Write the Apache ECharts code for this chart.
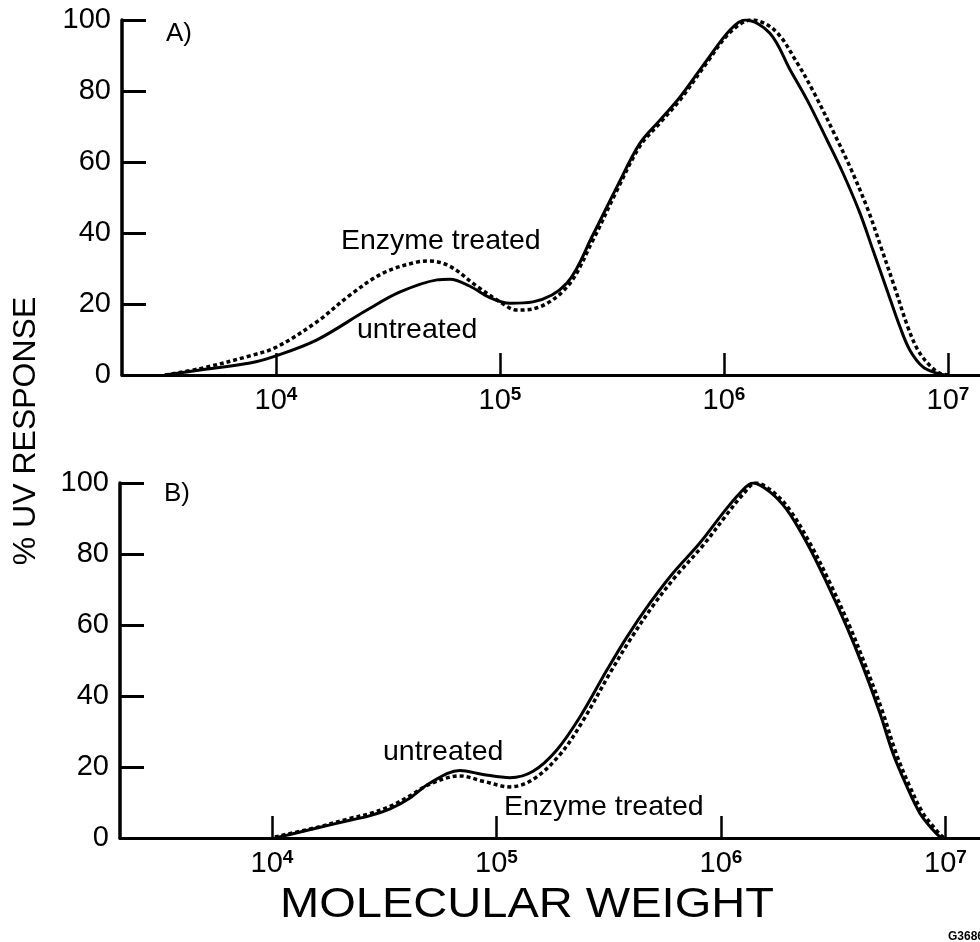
<!DOCTYPE HTML>
<html>
<head>
    <meta charset="utf-8">
    <title>% UV response vs molecular weight</title>
    <script type="text/javascript" src="https://cdn.jsdelivr.net/npm/echarts@6/dist/echarts.min.js"></script>
    <style>
        html, body { margin: 0; padding: 0; background: #fff; }
        #container { width: 980px; height: 942px; }
    </style>
</head>
<body>
<div id="container"></div>
<script type="text/javascript">
    // x values are log10(molecular weight), y values are % UV response
    var xTicks = [4, 5, 6, 7];
    var yTicks = [0, 20, 40, 60, 80, 100];

    // panel A) untreated (solid)
    var logMwA_untreated = [3.504, 3.661, 3.884, 4.000, 4.183, 4.406, 4.554, 4.719, 4.777, 4.866, 4.955, 5.045, 5.147, 5.299, 5.415, 5.522, 5.625, 5.714, 5.804, 5.924, 6.027, 6.094, 6.205, 6.295, 6.371, 6.460, 6.531, 6.607, 6.665, 6.728, 6.786, 6.830, 6.888, 6.951, 6.987];
    var uvA_untreated    = [0, 1.4, 3.4, 5.4, 9.9, 18.3, 23.4, 26.8, 27, 25, 21.8, 20.2, 20.6, 25.9, 39.5, 53, 65.3, 71.8, 78.3, 88.7, 97.2, 100, 96.3, 86, 77.5, 66.2, 56.9, 45.6, 35.2, 23.9, 13.5, 7, 2.3, 0.5, 0];

    // panel A) enzyme treated (dotted)
    var logMwA_treated = [3.504, 3.661, 3.884, 4.000, 4.183, 4.330, 4.478, 4.629, 4.688, 4.777, 4.897, 5.000, 5.076, 5.147, 5.299, 5.415, 5.522, 5.625, 5.714, 5.804, 5.924, 6.027, 6.125, 6.228, 6.326, 6.406, 6.496, 6.567, 6.643, 6.701, 6.763, 6.821, 6.866, 6.920, 6.964, 7.000];
    var uvA_treated    = [0, 1.8, 5.4, 7.8, 15, 22.5, 28.7, 31.8, 32.1, 30.6, 25, 20.6, 18.3, 18.6, 24.8, 38, 52, 64.5, 71, 77.5, 88, 96.5, 100, 97, 88, 79, 67.5, 58, 46.5, 36, 24.5, 13.5, 7, 2.6, 0.5, 0];

    // panel B) untreated (solid)
    var logMwB_untreated = [4.013, 4.080, 4.200, 4.347, 4.437, 4.526, 4.615, 4.704, 4.837, 4.940, 5.060, 5.163, 5.269, 5.372, 5.492, 5.581, 5.684, 5.786, 5.906, 6.009, 6.085, 6.143, 6.218, 6.294, 6.383, 6.472, 6.561, 6.633, 6.708, 6.766, 6.829, 6.886, 6.944, 6.976, 6.993];
    var uvB_untreated    = [0, 1, 2.8, 5, 6.3, 8.2, 11.3, 15.5, 19, 17.9, 17, 18.8, 24.8, 34.1, 47.3, 56.6, 66.2, 74.6, 83.1, 91.5, 97.2, 100, 97.5, 92.4, 83.1, 71.8, 59.4, 48.2, 35.2, 23.9, 14.4, 7, 2.3, 0.3, 0];

    // panel B) enzyme treated (dotted)
    var logMwB_treated = [4.013, 4.200, 4.347, 4.437, 4.526, 4.615, 4.704, 4.837, 4.940, 5.060, 5.163, 5.283, 5.385, 5.506, 5.595, 5.697, 5.800, 5.920, 6.022, 6.098, 6.156, 6.232, 6.307, 6.396, 6.486, 6.575, 6.646, 6.722, 6.780, 6.842, 6.900, 6.958, 6.989, 7.007];
    var uvB_treated    = [0.3, 3, 5.5, 6.9, 8.9, 11.9, 15.2, 17.5, 16, 14.4, 16.5, 23.5, 33, 46.5, 55.8, 65.4, 73.8, 82.4, 90.8, 96.8, 100, 97.5, 92.4, 83.1, 71.8, 59.4, 48.2, 35.2, 23.9, 14.4, 7, 2.3, 0.3, 0];

    function pairs(xs, ys) {
        var out = [];
        for (var i = 0; i < xs.length; i++) {
            out.push([xs[i], ys[i]]);
        }
        return out;
    }

    var FONT = "'Liberation Sans', Arial, Helvetica, sans-serif";

    function makeXAxis(gridIndex, min, max) {
        return {
            gridIndex: gridIndex,
            type: 'value',
            min: min,
            max: max,
            axisLine: {show: true, lineStyle: {color: '#000', width: 3}},
            axisTick: {
                show: true, inside: true, length: 22,
                customValues: xTicks,
                lineStyle: {color: '#000', width: 2.5}
            },
            axisLabel: {
                show: true,
                customValues: xTicks,
                margin: 10,
                formatter: function (v) {
                    return '{b|10}{s|' + Math.round(v) + '}';
                },
                rich: {
                    b: {fontSize: 29, fontFamily: FONT, color: '#000', lineHeight: 30, verticalAlign: 'bottom'},
                    s: {fontSize: 19, fontFamily: FONT, fontWeight: 'bold', color: '#000', lineHeight: 19, verticalAlign: 'top'}
                }
            },
            splitLine: {show: false}
        };
    }

    function makeYAxis(gridIndex) {
        return {
            gridIndex: gridIndex,
            type: 'value',
            min: 0,
            max: 100,
            interval: 20,
            axisLine: {show: true, lineStyle: {color: '#000', width: 3.5}},
            axisTick: {show: true, inside: true, length: 24, lineStyle: {color: '#000', width: 3}},
            axisLabel: {fontSize: 29, fontFamily: FONT, color: '#000', margin: 11},
            splitLine: {show: false}
        };
    }

    function makeLine(xi, yi, data, dotted) {
        return {
            type: 'line',
            xAxisIndex: xi,
            yAxisIndex: yi,
            data: data,
            smooth: 0.35,
            symbol: 'none',
            silent: true,
            lineStyle: dotted
                ? {color: '#000', width: 3.5, type: [4, 3]}
                : {color: '#000', width: 3},
            z: dotted ? 3 : 2
        };
    }

    function label(text, x, y, size) {
        return {
            type: 'text',
            x: x,
            y: y,
            style: {
                text: text,
                fontSize: size,
                fontFamily: FONT,
                fill: '#000',
                textVerticalAlign: 'middle'
            }
        };
    }

    var dom = document.getElementById("container");
    var myChart = echarts.init(dom);

    var option = {
        animation: false,
        backgroundColor: '#fff',
        grid: [
            {left: 122, top: 20, width: 858, height: 355},
            {left: 120, top: 483, width: 860, height: 355}
        ],
        xAxis: [
            makeXAxis(0, 3.3125, 7.143),
            makeXAxis(1, 3.323, 7.154)
        ],
        yAxis: [
            makeYAxis(0),
            makeYAxis(1)
        ],
        series: [
            makeLine(0, 0, pairs(logMwA_untreated, uvA_untreated), false),
            makeLine(0, 0, pairs(logMwA_treated, uvA_treated), true),
            makeLine(1, 1, pairs(logMwB_untreated, uvB_untreated), false),
            makeLine(1, 1, pairs(logMwB_treated, uvB_treated), true)
        ],
        graphic: [
            label('A)', 166, 34, 26),
            label('B)', 164, 494, 26),
            label('Enzyme treated', 341, 241, 28.5),
            label('untreated', 357, 330, 28.5),
            label('untreated', 383, 752, 28.5),
            label('Enzyme treated', 504, 807, 28.5),
            {
                type: 'text',
                x: 26,
                y: 431,
                rotation: Math.PI / 2,
                style: {
                    text: '% UV RESPONSE',
                    fontSize: 32,
                    fontFamily: FONT,
                    fill: '#000',
                    textAlign: 'center',
                    textVerticalAlign: 'middle'
                }
            },
            {
                type: 'text',
                x: 527,
                y: 905,
                scaleX: 1.12,
                style: {
                    text: 'MOLECULAR WEIGHT',
                    fontSize: 42,
                    fontFamily: FONT,
                    fill: '#000',
                    textAlign: 'center',
                    textVerticalAlign: 'middle'
                }
            },
            {
                type: 'text',
                x: 948,
                y: 937,
                style: {
                    text: 'G3686',
                    fontSize: 12,
                    fontWeight: 'bold',
                    fontFamily: FONT,
                    fill: '#000',
                    textVerticalAlign: 'middle'
                }
            }
        ]
    };

    myChart.setOption(option, true);
</script>
</body>
</html>
